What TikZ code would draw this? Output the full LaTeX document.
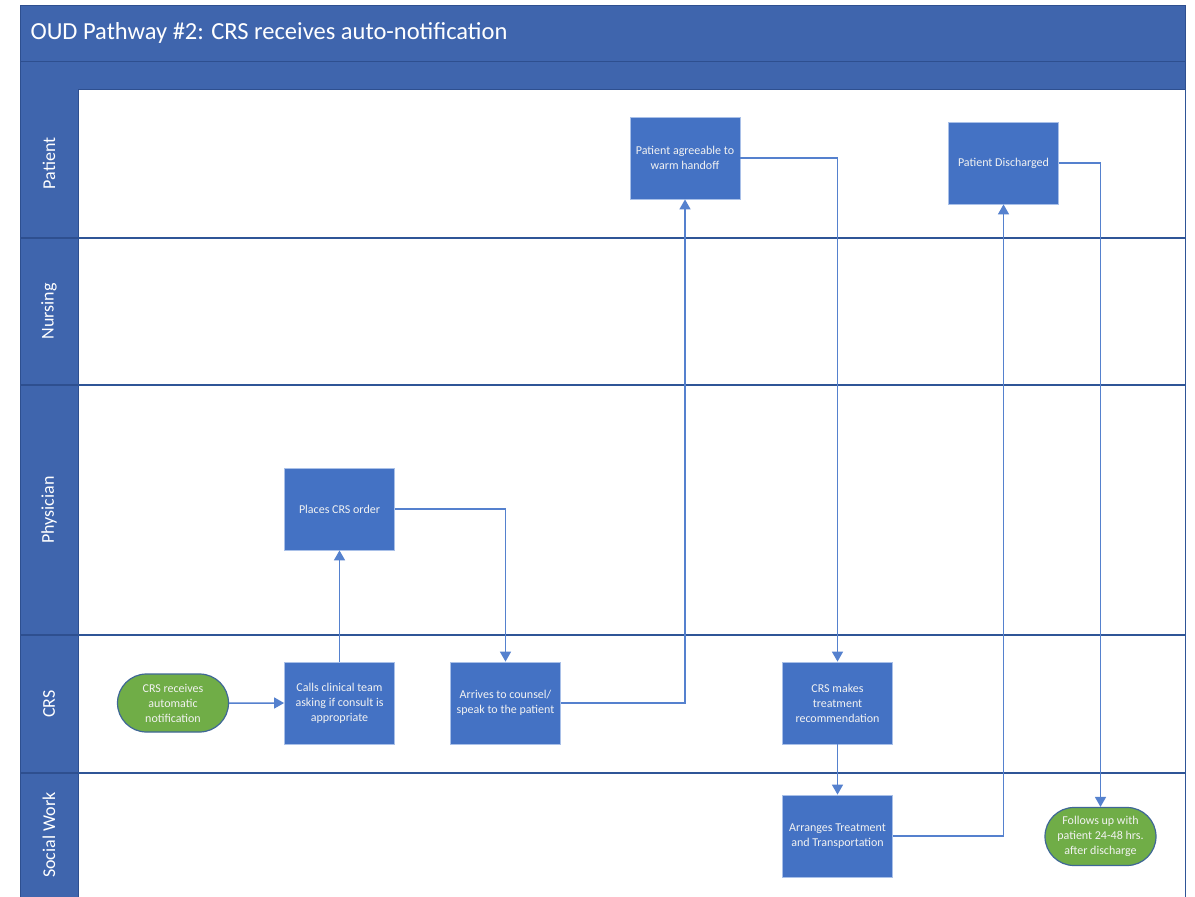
\documentclass[tikz,border=0pt]{standalone}
\usepackage{fontspec}
\setmainfont{Carlito}
\usetikzlibrary{shapes.misc,arrows.meta}

\definecolor{barblue}{HTML}{3F65AD}
\definecolor{barline}{HTML}{2E4F8F}
\definecolor{boxblue}{HTML}{4472C4}
\definecolor{boxedge}{HTML}{A9C0E8}
\definecolor{termgreen}{HTML}{70AD47}
\definecolor{termedge}{HTML}{3F6796}
\definecolor{flowblue}{HTML}{5581CE}
\definecolor{laneline}{HTML}{2F5597}
\definecolor{boxtext}{HTML}{F2F2F2}

\tikzset{
  process/.style={draw=boxedge, line width=0.8pt, fill=boxblue, text=boxtext,
    minimum width=110pt, minimum height=82pt, inner sep=0pt, align=center,
    font=\fontsize{12}{15}\selectfont},
  terminal/.style={rounded rectangle, draw=termedge, line width=1.2pt, fill=termgreen,
    text=boxtext, minimum width=111pt, minimum height=58pt, inner sep=0pt, align=center,
    font=\fontsize{12}{15}\selectfont},
  flow/.style={draw=flowblue, line width=1.5pt, -{Triangle[length=10pt,width=11pt]}},
  lanelabel/.style={rotate=90, text=white, font=\fontsize{18}{20}\selectfont},
  lanesep/.style={draw=laneline, line width=1.3pt}
}

\begin{document}
\begin{tikzpicture}[x=1pt,y=-1pt]
\useasboundingbox (0,0) rectangle (1195,897);
\fill[white] (0,0) rectangle (1195,897);

% title bar and sub-header band
\filldraw[fill=barblue, draw=barline, line width=1pt] (20,5) rectangle (1185,61);
\filldraw[fill=barblue, draw=barline, line width=1pt] (20,61) rectangle (1185,89);
\node[anchor=west, text=white, font=\fontsize{24.5}{28}\selectfont] (title) at (27,33)
  {OUD Pathway \#2: CRS receives auto-notification};

% lane area and label column
\draw[laneline, line width=1pt] (1185,89) -- (1185,897);
\fill[barblue] (20,89) rectangle (78,897);
\draw[barline, line width=1pt] (20,89) -- (20,897);
\draw[barline, line width=1pt] (78,89) -- (78,897);
\foreach \y in {238,385,635,773} {
  \draw[lanesep] (78,\y) -- (1185,\y);
  \draw[barline, line width=1.3pt] (20,\y) -- (78,\y);
}

\node[lanelabel] (lpatient) at (49,163.5) {Patient};
\node[lanelabel] (lnursing) at (49,311.5) {Nursing};
\node[lanelabel] (lphys) at (49,510) {Physician};
\node[lanelabel] (lcrs) at (49,704) {CRS};
\node[lanelabel] (lsw) at (49,835) {Social Work};

% steps
\node[terminal] (start) at (173,703) {CRS receives\\automatic\\notification};
\node[process] (calls) at (339.5,703) {Calls clinical team\\asking if consult is\\appropriate};
\node[process] (places) at (339.5,509) {Places CRS order};
\node[process] (arrives) at (505.5,703) {Arrives to counsel/\\speak to the patient};
\node[process] (agree) at (685,158) {Patient agreeable to\\warm handoff};
\node[process] (recommend) at (837.5,703) {CRS makes\\treatment\\recommendation};
\node[process] (arranges) at (837.5,836) {Arranges Treatment\\and Transportation};
\node[process] (discharged) at (1003.5,163) {Patient Discharged};
\node[terminal] (follow) at (1100.5,836.5) {Follows up with\\patient 24-48 hrs.\\after discharge};

% connectors
\draw[flow] (start) -- (calls);
\draw[flow] (calls) -- (places);
\draw[flow] (places.east) -| (arrives.north);
\draw[flow] (arrives.east) -| (agree.south);
\draw[flow] (agree.east) -| (recommend.north);
\draw[flow] (recommend) -- (arranges);
\draw[flow] (arranges.east) -| (discharged.south);
\draw[flow] (discharged.east) -| (follow.north);
\end{tikzpicture}
\end{document}
